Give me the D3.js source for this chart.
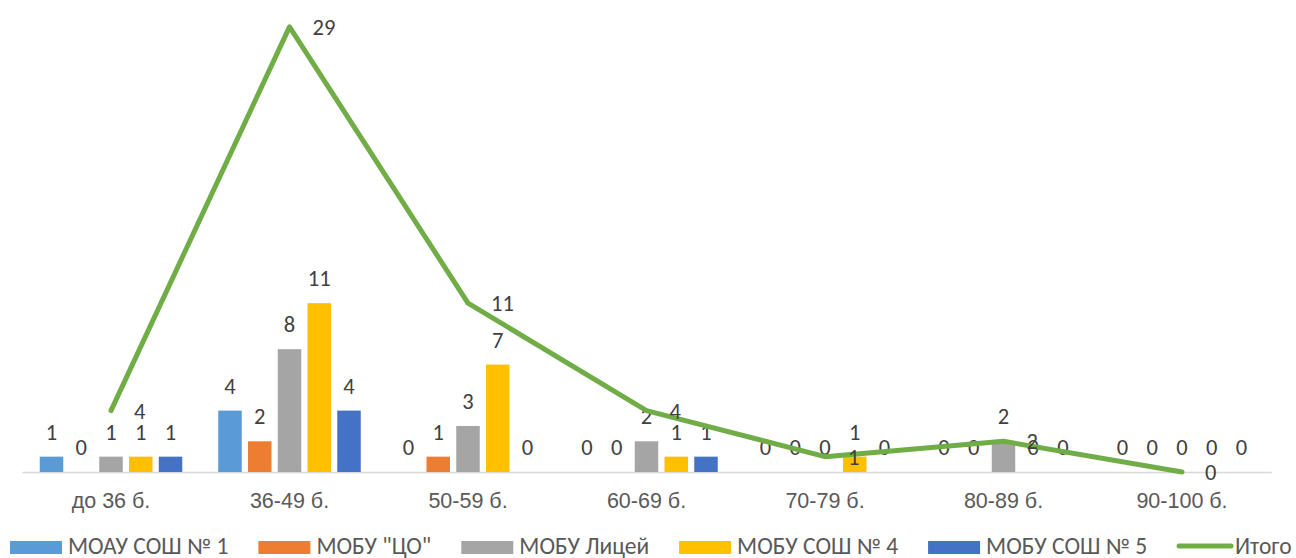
<!DOCTYPE html>
<html>
<head>
<meta charset="utf-8">
<script src="https://cdn.jsdelivr.net/npm/d3@7"></script>
<style>
  html, body { margin: 0; padding: 0; background: #fff; }
  svg { display: block; font-family: Carlito, Calibri, Lato, "Open Sans", sans-serif; }
</style>
</head>
<body>
<svg id="chart" width="1296" height="558"></svg>
<script>
const categories = ["до 36 б.", "36-49 б.", "50-59 б.", "60-69 б.", "70-79 б.", "80-89 б.", "90-100 б."];
const seriesNames = ["МОАУ СОШ № 1", "МОБУ \"ЦО\"", "МОБУ Лицей", "МОБУ СОШ № 4", "МОБУ СОШ № 5"];
const seriesColors = ["#5B9BD5", "#ED7D31", "#A5A5A5", "#FFC000", "#4472C4"];
const s1 = [1, 4, 0, 0, 0, 0, 0];
const s2 = [0, 2, 1, 0, 0, 0, 0];
const s3 = [1, 8, 3, 2, 0, 2, 0];
const s4 = [1, 11, 7, 1, 1, 0, 0];
const s5 = [1, 4, 0, 1, 0, 0, 0];
const totalName = "Итого";
const totalValues = [4, 29, 11, 4, 1, 2, 0];
const totalColor = "#70AD47";
const yDomain = [0, 30];

const seriesValues = [s1, s2, s3, s4, s5];
const svg = d3.select("#chart");

const x0 = d3.scaleBand().domain(categories).range([21.75, 1271.25]).padding(0);
const x1 = d3.scaleBand().domain(seriesNames).range([0, x0.bandwidth()]).paddingInner(0.21).paddingOuter(0.605);
const y = d3.scaleLinear().domain(yDomain).range([472, 11.5]);

// x axis
const xAxis = d3.axisBottom(x0).tickSize(0).tickPadding(0);
const gx = svg.append("g").attr("transform", `translate(0,${y(0)})`).call(xAxis);
gx.select(".domain").attr("stroke", "#D9D9D9").attr("stroke-width", 1.3);
gx.selectAll("text")
  .attr("font-family", null)
  .attr("font-size", 21.5)
  .attr("fill", "#595959")
  .attr("dy", null)
  .attr("y", 36);

// bars
const rows = categories.map((c, i) => ({ cat: c, vals: seriesValues.map((s, j) => ({ name: seriesNames[j], v: s[i], color: seriesColors[j] })) }));
const groups = svg.append("g").selectAll("g").data(rows).join("g")
  .attr("transform", d => `translate(${x0(d.cat)},0)`);
groups.selectAll("rect").data(d => d.vals).join("rect")
  .attr("x", d => x1(d.name))
  .attr("width", x1.bandwidth())
  .attr("y", d => y(d.v))
  .attr("height", d => y(0) - y(d.v))
  .attr("fill", d => d.color);

// line
const pts = categories.map((c, i) => ({ cat: c, v: totalValues[i] }));
const line = d3.line().x(d => x0(d.cat) + x0.bandwidth() / 2).y(d => y(d.v));
svg.append("path").datum(pts)
  .attr("d", line)
  .attr("fill", "none")
  .attr("stroke", totalColor)
  .attr("stroke-width", 5)
  .attr("stroke-linejoin", "round")
  .attr("stroke-linecap", "round");

// bar labels
groups.selectAll("text.bl").data(d => d.vals).join("text")
  .attr("class", "bl")
  .attr("x", d => x1(d.name) + x1.bandwidth() / 2)
  .attr("y", d => y(d.v) - 17)
  .attr("text-anchor", "middle")
  .attr("font-size", 22.5)
  .attr("fill", "#404040")
  .text(d => d.v);

// line labels
svg.append("g").selectAll("text").data(pts).join("text")
  .attr("x", d => x0(d.cat) + x0.bandwidth() / 2 + 23)
  .attr("y", d => y(d.v) + 8)
  .attr("font-size", 22.5)
  .attr("fill", "#404040")
  .text(d => d.v);

// legend
const legend = svg.append("g");
let lx = 10;
const items = seriesNames.map((n, i) => ({ name: n, color: seriesColors[i], type: "rect" }))
  .concat([{ name: totalName, color: totalColor, type: "line" }]);
items.forEach(it => {
  const g = legend.append("g").attr("transform", `translate(${lx},0)`);
  if (it.type === "rect") {
    g.append("rect").attr("x", 0).attr("y", 541).attr("width", 52).attr("height", 13).attr("fill", it.color);
  } else {
    g.append("line").attr("x1", 2).attr("x2", 54).attr("y1", 546).attr("y2", 546)
      .attr("stroke", it.color).attr("stroke-width", 5).attr("stroke-linecap", "round");
  }
  const t = g.append("text").attr("x", 58).attr("y", 554)
    .attr("font-size", 23.5).attr("fill", "#595959").text(it.name);
  lx += 58 + t.node().getComputedTextLength() + 30;
});
</script>
</body>
</html>
